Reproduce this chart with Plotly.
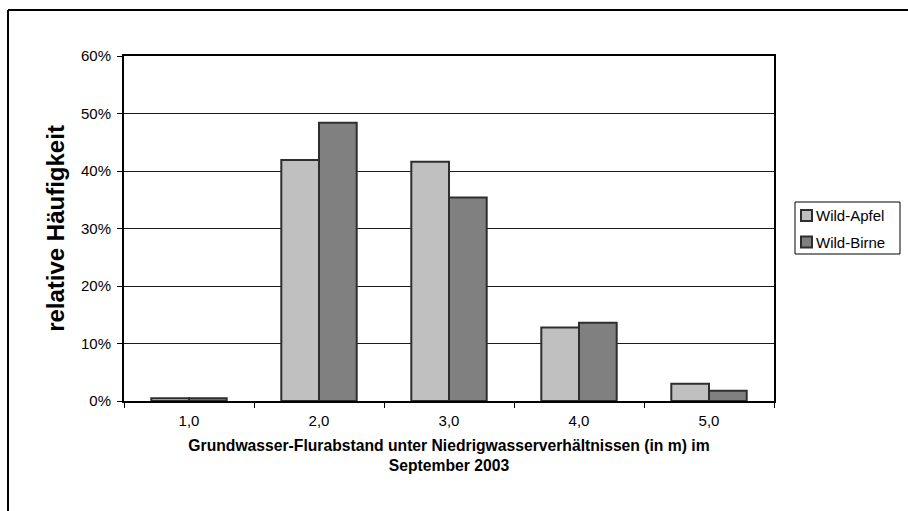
import plotly.graph_objects as go

# Grundwasser-Flurabstand classes (m) and relative frequencies (%)
categories = ["1,0", "2,0", "3,0", "4,0", "5,0"]
series_names = ["Wild-Apfel", "Wild-Birne"]
wild_apfel = [0.5, 41.9, 41.6, 12.8, 3.0]
wild_birne = [0.5, 48.4, 35.4, 13.6, 1.8]
y_ticks = [0, 10, 20, 30, 40, 50, 60]
y_tick_labels = [f"{v}%" for v in y_ticks]

FONT = "Liberation Sans, Arial, sans-serif"
OUTLINE = "#2e2e2e"
FILLS = ["#c0c0c0", "#808080"]

# plot area in pixels: x 124..774, y 56..401
L, R, T, B = 124, 774, 56, 401


def xp(px):
    return (px - L) / (R - L)


def yp(py):
    return (B - py) / (B - T)


fig = go.Figure()
for name, vals, fill in zip(series_names, [wild_apfel, wild_birne], FILLS):
    fig.add_trace(go.Bar(
        name=name, x=categories, y=vals, showlegend=False,
        marker=dict(color=fill, line=dict(color=OUTLINE, width=2)),
    ))

# legend box drawn by hand (compact, Excel-style)
shapes = [
    dict(type="rect", xref="paper", yref="paper",
         x0=xp(795), x1=xp(900), y0=yp(254), y1=yp(202),
         line=dict(color="black", width=1), fillcolor="white"),
]
annotations = []
for i, (name, fill) in enumerate(zip(series_names, FILLS)):
    cy = 215.5 + i * 26.5
    shapes.append(dict(
        type="rect", xref="paper", yref="paper",
        x0=xp(801), x1=xp(812), y0=yp(cy + 5.5), y1=yp(cy - 5.5),
        line=dict(color=OUTLINE, width=2), fillcolor=fill,
    ))
    annotations.append(dict(
        xref="paper", yref="paper", x=xp(814), y=yp(cy),
        xanchor="left", yanchor="middle", showarrow=False,
        text=name, font=dict(family=FONT, size=15, color="black"),
    ))

# outer chart frame (left and top edges fall inside the page)
shapes.append(dict(type="line", xref="paper", yref="paper",
                   x0=xp(8), x1=xp(8), y0=yp(530), y1=yp(10),
                   line=dict(color="black", width=2), layer="below"))
shapes.append(dict(type="line", xref="paper", yref="paper",
                   x0=xp(8), x1=xp(930), y0=yp(10), y1=yp(10),
                   line=dict(color="black", width=2), layer="below"))

fig.update_layout(
    width=908, height=511,
    margin=dict(l=L, r=908 - R, t=T, b=511 - B),
    paper_bgcolor="white", plot_bgcolor="white",
    barmode="group", bargap=0.42, bargroupgap=0,
    font=dict(family=FONT, color="black", size=15),
    showlegend=False,
    xaxis=dict(
        type="category",
        showline=True, linecolor="black", linewidth=2, mirror=True,
        ticks="outside", tickson="boundaries", ticklen=5, tickcolor="black", tickwidth=1,
        tickfont=dict(size=15), ticklabelstandoff=5,
        showgrid=False,
        title=dict(
            text="<b>Grundwasser-Flurabstand unter Niedrigwasserverhältnissen (in m) im<br>September 2003</b>",
            font=dict(size=15.7), standoff=12,
        ),
    ),
    yaxis=dict(
        range=[0, 60], tickvals=y_ticks, ticktext=y_tick_labels,
        showline=True, linecolor="black", linewidth=2, mirror=True,
        ticks="outside", ticklen=5, tickcolor="black", tickwidth=1,
        tickfont=dict(size=15), ticklabelstandoff=3,
        showgrid=True, gridcolor="#1a1a1a", gridwidth=1,
        zeroline=False,
        title=dict(text="<b>relative Häufigkeit</b>", font=dict(size=24), standoff=10),
    ),
    shapes=shapes,
    annotations=annotations,
)

fig.write_html("out.html")
